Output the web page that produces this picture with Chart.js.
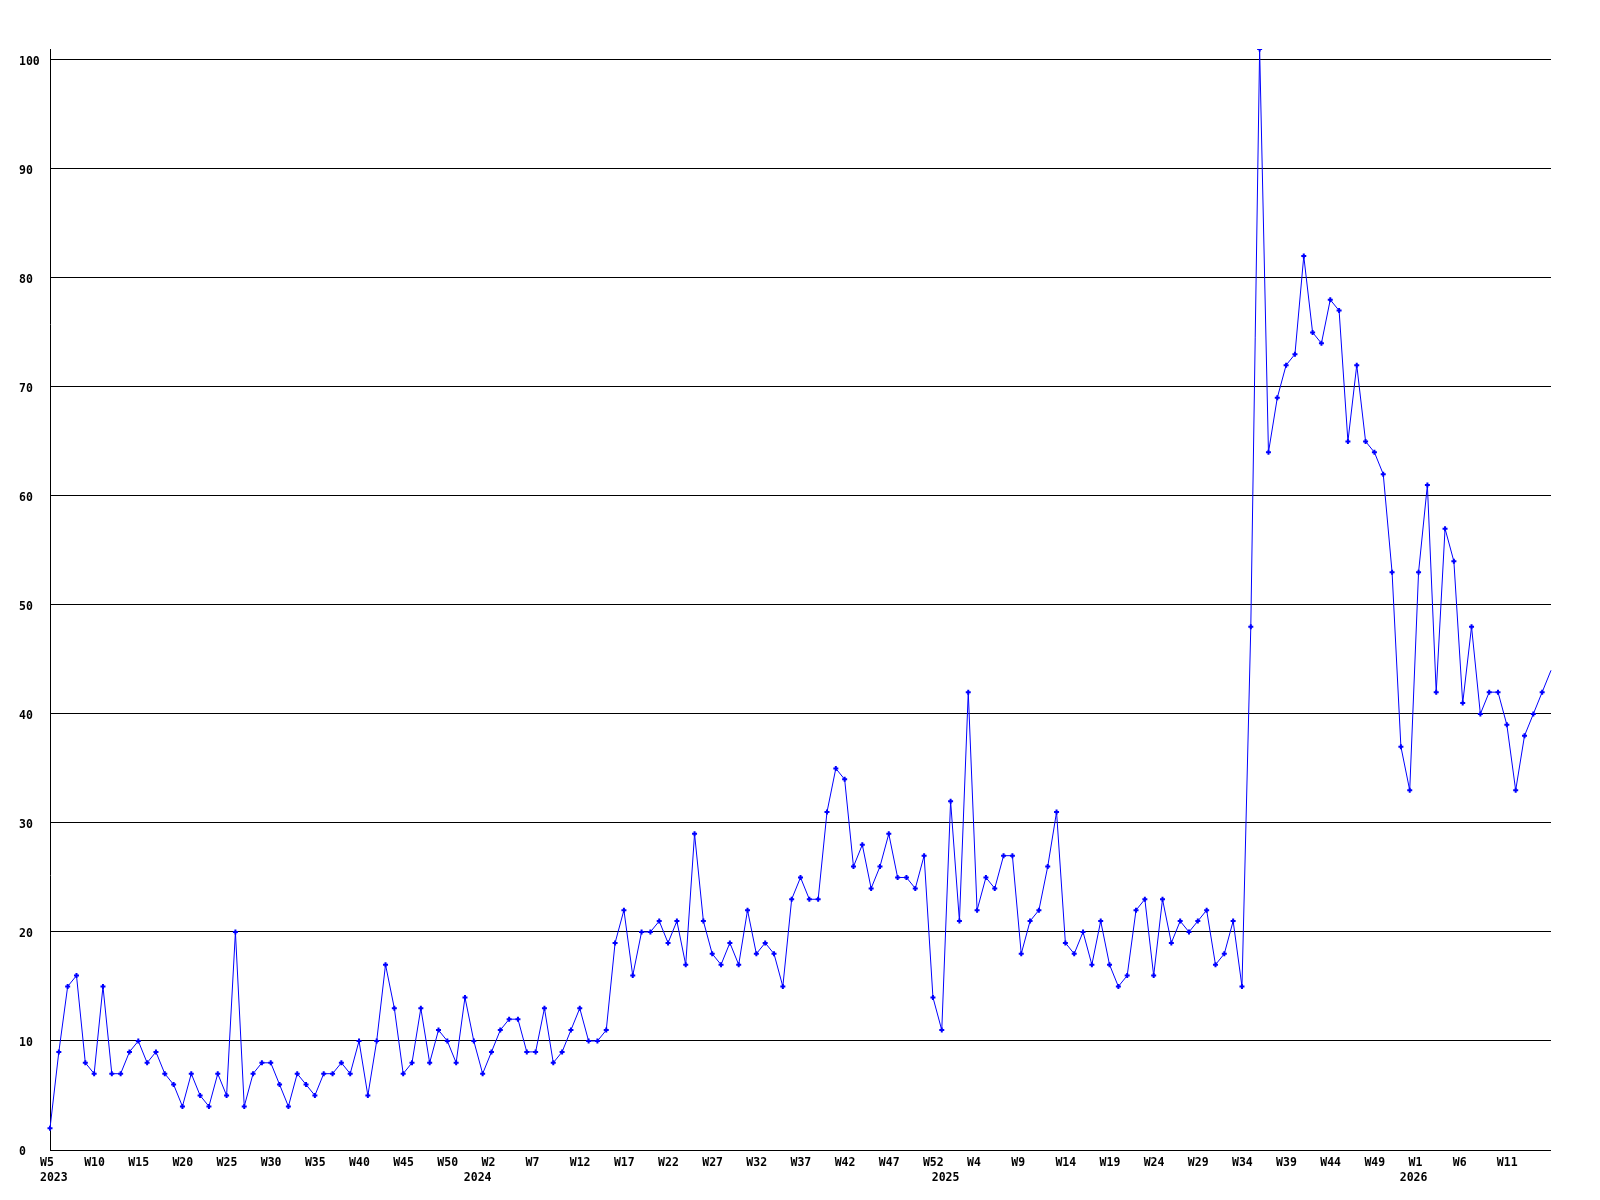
<!DOCTYPE html>
<html>
<head>
<meta charset="utf-8">
<script src="https://cdn.jsdelivr.net/npm/chart.js@4.4.1/dist/chart.umd.min.js"></script>
<style>
  html, body { margin: 0; padding: 0; background: #fff; }
</style>
</head>
<body>
<canvas id="line-chart" width="1600" height="1200"></canvas>
<script>
// weeks run W0..W52 per year, first year starts at W5, last ends at W16
var years = ['2023', '2024', '2025', '2026'];
var firstWeek = [5, 0, 0, 0];
var lastWeek = [52, 52, 52, 16];
var yTicks = [0, 10, 20, 30, 40, 50, 60, 70, 80, 90, 100];

var counts = [
    // 2023 W5 - W52
    2, 9, 15, 16, 8, 7, 15, 7, 7, 9, 10, 8, 9, 7, 6, 4, 7, 5, 4, 7,
    5, 20, 4, 7, 8, 8, 6, 4, 7, 6, 5, 7, 7, 8, 7, 10, 5, 10, 17, 13,
    7, 8, 13, 8, 11, 10, 8, 14,
    // 2024 W0 - W52
    10, 7, 9, 11, 12, 12, 9, 9, 13, 8, 9, 11, 13, 10, 10, 11, 19, 22, 16, 20,
    20, 21, 19, 21, 17, 29, 21, 18, 17, 19, 17, 22, 18, 19, 18, 15, 23, 25, 23, 23,
    31, 35, 34, 26, 28, 24, 26, 29, 25, 25, 24, 27, 14,
    // 2025 W0 - W52
    11, 32, 21, 42, 22, 25, 24, 27, 27, 18, 21, 22, 26, 31, 19, 18, 20, 17, 21, 17,
    15, 16, 22, 23, 16, 23, 19, 21, 20, 21, 22, 17, 18, 21, 15, 48, 101, 64, 69, 72,
    73, 82, 75, 74, 78, 77, 65, 72, 65, 64, 62, 53, 37,
    // 2026 W0 - W16
    33, 53, 61, 42, 57, 54, 41, 48, 40, 42, 42, 39, 33, 38, 40, 42, 44
];

var weeks = [];
var yearAt = {};
for (var y = 0; y < years.length; y++) {
    yearAt[weeks.length] = years[y];
    for (var w = firstWeek[y]; w <= lastWeek[y]; w++) {
        weeks.push('W' + w);
    }
}
var last = weeks.length - 1;

var font = { family: '"DejaVu Sans Mono", monospace', size: 11.5, weight: 'bold', lineHeight: 1.3 };

new Chart(document.getElementById('line-chart'), {
    type: 'line',
    data: {
        labels: weeks,
        datasets: [{
            data: counts,
            borderColor: '#0000ff',
            backgroundColor: '#0000ff',
            borderWidth: 1,
            tension: 0,
            pointStyle: 'cross',
            pointRadius: function(ctx) { return ctx.dataIndex === last ? 0 : 2.5; },
            pointBorderWidth: 2,
            pointBorderColor: '#0000ff',
            fill: false
        }]
    },
    options: {
        responsive: false,
        animation: false,
        layout: { padding: { left: 19, right: 49, top: 49, bottom: 0 } },
        plugins: {
            legend: { display: false },
            tooltip: { enabled: false }
        },
        scales: {
            x: {
                grid: { display: false },
                border: { display: false },
                afterFit: function(scale) { scale.height = 50; },
                ticks: {
                    autoSkip: false,
                    maxRotation: 0,
                    minRotation: 0,
                    align: 'start',
                    labelOffset: -10,
                    padding: -2,
                    color: '#000',
                    font: font,
                    callback: function(value, index) {
                        var wk = (index % 5 === 0 && index !== last) ? weeks[index] : '';
                        var yr = yearAt[index] || '';
                        if (!wk && !yr) return null;
                        return [wk, yr];
                    }
                }
            },
            y: {
                min: 0,
                max: 101,
                afterFit: function(scale) { scale.width = 31; },
                afterBuildTicks: function(scale) {
                    scale.ticks = yTicks.map(function(v) { return { value: v }; });
                },
                grid: { color: '#000', lineWidth: 1, drawTicks: false },
                border: { color: '#000', width: 1 },
                ticks: {
                    crossAlign: 'far',
                    padding: 0,
                    labelOffset: 2,
                    color: '#000',
                    font: font
                }
            }
        }
    }
});
</script>
</body>
</html>
